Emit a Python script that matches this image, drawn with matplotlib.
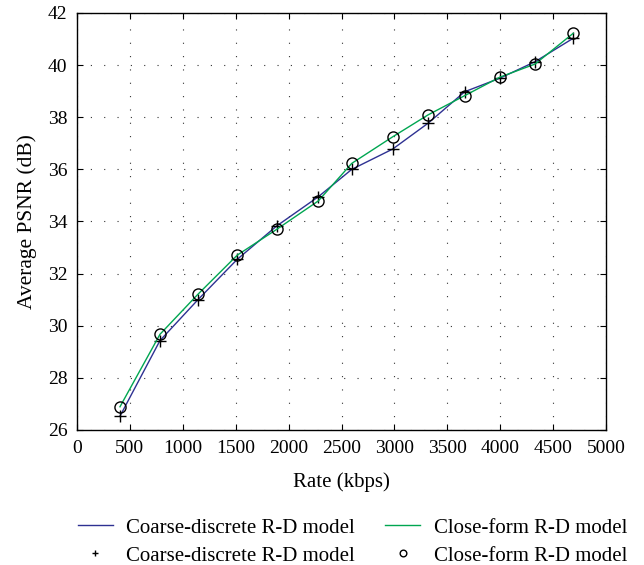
import matplotlib
matplotlib.use("Agg")
import matplotlib.pyplot as plt

rate = [406, 784, 1141, 1515, 1888, 2281, 2597, 2984, 3318, 3665, 3998, 4329, 4690]
psnr_coarse = [26.53, 29.43, 30.99, 32.55, 33.83, 34.95, 36.0, 36.78, 37.77, 38.98, 39.5, 40.13, 41.03]
psnr_close = [26.89, 29.67, 31.2, 32.71, 33.7, 34.79, 36.23, 37.25, 38.09, 38.83, 39.54, 40.04, 41.22]

plt.rcParams['font.family'] = ['Liberation Serif', 'DejaVu Serif']
plt.rcParams['font.size'] = 14

fig = plt.figure(figsize=(6.44, 5.65), dpi=100)
ax = fig.add_axes([0.1196, 0.239, 0.8214, 0.738])

l1, = ax.plot(rate, psnr_coarse, color='#2e3192', lw=1.0, label='Coarse-discrete R-D model')
m1, = ax.plot(rate, psnr_coarse, '+', color='black', ms=8, mew=1.0, ls='none', label='Coarse-discrete R-D model')
l2, = ax.plot(rate, psnr_close, color='#00a651', lw=1.0, label='Close-form R-D model')
m2, = ax.plot(rate, psnr_close, 'o', mfc='none', mec='black', ms=8, mew=1.0, ls='none', label='Close-form R-D model')

ax.set_xlim(0, 5000)
ax.set_ylim(26, 42)
ax.set_xticks(range(0, 5001, 500))
ax.set_yticks(range(26, 43, 2))
ax.tick_params(direction='in', top=True, right=True, length=4, labelsize=14)
ax.tick_params(axis='x', pad=7)
ax.tick_params(axis='y', pad=7)
ax.grid(True, color='#333333', linestyle=(0, (1, 11)), linewidth=0.8)
for s in ax.spines.values():
    s.set_linewidth(1.0)

ax.set_xlabel('Rate (kbps)', fontsize=15, labelpad=11)
ax.set_ylabel('Average PSNR (dB)', fontsize=15.5, labelpad=8)

leg = fig.legend(handles=[l1, m1, l2, m2], loc='center', bbox_to_anchor=(0.547, 0.041),
                 ncol=2, frameon=False, fontsize=15, handlelength=1.7,
                 handletextpad=0.63, columnspacing=1.45, labelspacing=0.4,
                 borderpad=0.2, markerscale=0.6)

fig.savefig('out.png', dpi=100)
